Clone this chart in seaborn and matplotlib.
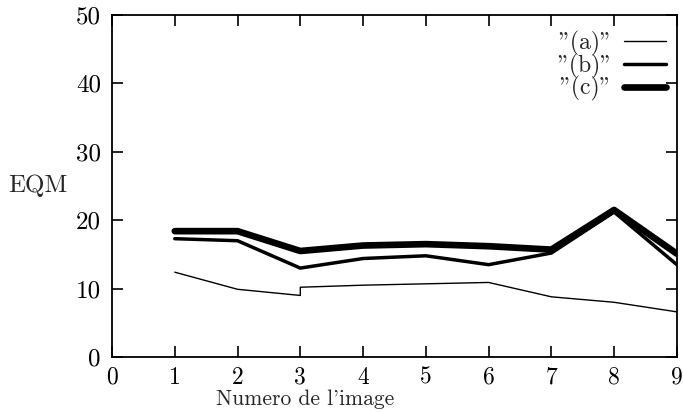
import matplotlib
matplotlib.use("Agg")
import matplotlib.pyplot as plt
import seaborn as sns
import pandas as pd

# Data
x_a = [1, 2, 3, 3, 4, 5, 6, 7, 8, 9]
y_a = [12.4, 9.9, 9.0, 10.2, 10.5, 10.7, 10.9, 8.8, 8.0, 6.6]
x_b = [1, 2, 3, 4, 5, 6, 7, 8, 9]
y_b = [17.3, 17.0, 13.0, 14.4, 14.8, 13.5, 15.2, 21.2, 13.5]
x_c = [1, 2, 3, 4, 5, 6, 7, 8, 9]
y_c = [18.4, 18.4, 15.5, 16.3, 16.5, 16.2, 15.7, 21.5, 15.1]
labels = ['"(a)"', '"(b)"', '"(c)"']
x_ticks = [0, 1, 2, 3, 4, 5, 6, 7, 8, 9]
y_ticks = [0, 10, 20, 30, 40, 50]

sns.set_style("ticks")
plt.rcParams['font.family'] = ['cmr10']
plt.rcParams['axes.formatter.use_mathtext'] = True
plt.rcParams['mathtext.fontset'] = 'cm'

fig = plt.figure(figsize=(6.83, 4.12), dpi=100)
ax = fig.add_axes([0.164, 0.1335, 0.827, 0.830])

series = [(x_a, y_a, 1.0), (x_b, y_b, 2.5), (x_c, y_c, 4.8)]
for (xs, ys, lw), lab in zip(series, labels):
    df = pd.DataFrame({"x": xs, "y": ys})
    sns.lineplot(data=df, x="x", y="y", ax=ax, color="black", linewidth=lw,
                 estimator=None, sort=False, label=lab)

ax.set_xlim(0, 9)
ax.set_ylim(0, 50)
ax.set_xticks(x_ticks)
ax.set_yticks(y_ticks)
ax.set_xticklabels([str(t) for t in x_ticks])
ax.set_yticklabels([str(t) for t in y_ticks])
ax.tick_params(direction="in", length=8, width=1.2, top=True, right=True,
               colors="black")
ax.tick_params(axis="x", labelsize=17, pad=7)
ax.tick_params(axis="y", labelsize=18, pad=8)
for s in ax.spines.values():
    s.set_visible(True)
    s.set_linewidth(1.3)
    s.set_color("black")

ax.set_xlabel("Numero de l'image", fontsize=15.5)
ax.xaxis.set_label_coords(0.342, -0.094)
ax.set_ylabel("EQM", fontsize=18, rotation=0, ha="center", va="center")
ax.yaxis.set_label_coords(-0.131, 0.5)

leg = ax.legend(loc="upper right", bbox_to_anchor=(1.0, 0.985),
                frameon=False, markerfirst=False,
                fontsize=17, handlelength=1.8, handletextpad=0.5,
                labelspacing=-0.1, borderpad=0.0, borderaxespad=0.45)
for t in leg.get_texts():
    t.set_ha("right")

fig.savefig("out.png", dpi=100)
